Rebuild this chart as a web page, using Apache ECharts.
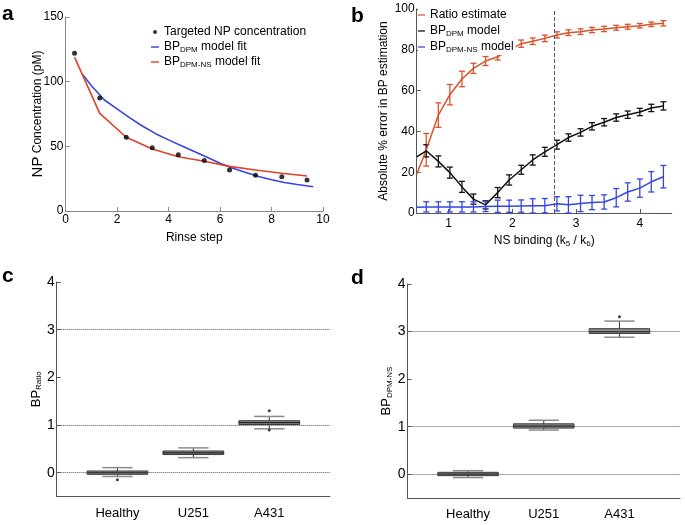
<!DOCTYPE html>
<html><head><meta charset="utf-8">
<script src="https://cdn.jsdelivr.net/npm/echarts@6/dist/echarts.min.js"></script>
<style>html,body{margin:0;padding:0;background:#fff}#c{width:685px;height:525px}</style>
</head><body><div id="c"></div>
<script>
// ---------- Panel a ----------
const rinseSteps = [0.35, 1.33, 2.36, 3.37, 4.38, 5.39, 6.37, 7.38, 8.40, 9.38];
const targetedNP = [122, 87.4, 57, 49, 43.5, 39, 31.7, 27.6, 26.5, 24];
const fitDPMNS = [119, 75.5, 57, 48, 42, 38.5, 34.5, 31.7, 29.2, 27];
const fitDPMx = [0.65, 1, 1.5, 2, 2.5, 3, 3.5, 4, 4.5, 5, 5.5, 6, 6.5, 7, 7.5, 8, 8.5, 9, 9.62];
const fitDPM = [106, 97, 86, 79, 72, 65.5, 59.8, 55, 50.5, 46, 41.5, 37, 33, 29.8, 26.7, 24.2, 22, 20.5, 18.8];

// ---------- Panel b ----------
const nsBinding = [0.65, 0.84, 1.02, 1.21, 1.39, 1.58, 1.77, 1.95, 2.14, 2.32, 2.51, 2.70, 2.88, 3.07, 3.25, 3.44, 3.63, 3.81, 4.00, 4.18, 4.37];
const edgeX = 0.5;
const ratioEdge = 19, dpmEdge = 27.5, dpmNSEdge = 2.8;
const ratioEst = [31, 48, 58, 65.7, 70.9, 74.5, 76.6, 80, 83, 84.2, 85.6, 87.3, 88.4, 88.9, 89.7, 90.2, 90.8, 91.3, 91.8, 92.5, 93.0];
const ratioErr = [8, 6, 5, 3.8, 2.5, 2.2, 1.6, 1.8, 1.8, 1.6, 1.6, 1.5, 1.4, 1.4, 1.3, 1.3, 1.2, 1.2, 1.1, 1.1, 1.3];
const dpmModel = [30.5, 25.3, 19.8, 12.8, 6.8, 4.0, 10, 16.2, 21.2, 26, 30, 33.5, 37, 39.5, 42.5, 44.5, 46.8, 48.2, 49.5, 51.5, 52.5];
const dpmErr = [3, 2.7, 2.7, 2.7, 2.5, 2, 2.5, 2.5, 2.2, 2.5, 2.2, 2.2, 1.8, 1.8, 1.8, 1.8, 1.8, 1.8, 1.8, 1.8, 2];
const dpmNSModel = [3, 3, 3, 3, 3, 3.2, 3.3, 3.3, 3.4, 3.5, 3.6, 4.5, 4.0, 4.7, 5.1, 5.4, 7.5, 10.3, 12.2, 15.3, 17.8];
const dpmNSErr = [2.5, 2.5, 2.5, 2.5, 2.5, 2.5, 3, 3, 3, 3.5, 3.5, 3.5, 4, 4, 3.5, 3.5, 4.5, 4.5, 4.5, 5, 5.5];
const dashedAt = 2.65;

// ---------- Panels c, d ----------
const groups = ['Healthy', 'U251', 'A431'];
const groupPos = [1, 2, 3];
// [min, Q1, median, Q3, max]
const boxRatio = [[-0.08, -0.035, 0, 0.035, 0.105], [0.315, 0.38, 0.415, 0.455, 0.52], [0.92, 1.01, 1.05, 1.09, 1.18]];
const outRatio = [[-0.15], [], [1.30, 0.895]];
const boxDPMNS = [[-0.07, -0.03, 0, 0.04, 0.075], [0.93, 0.97, 1.01, 1.06, 1.135], [2.88, 2.96, 3.0, 3.06, 3.22]];
const outDPMNS = [[], [], [3.31]];
const refLines = [0, 1, 3];
const tickB_X = [1, 2, 3, 4];
const tickCD_Y = [0, 1, 2, 3, 4];

const FONT = "'Liberation Sans', Arial, Helvetica, sans-serif";
const RED = '#d9522b', BLUE = '#3546e0', BLACK = '#111';
const subRich = { sub: { fontSize: 8, lineHeight: 6, verticalAlign: 'bottom', fontFamily: FONT, color: '#000' },
                  big: { fontSize: 15, lineHeight: 16, fontFamily: FONT, color: '#000' } };
const subFmt = n => n.replace(/^BP_(\S+)/, 'BP{sub|$1}');
const LINE_ICON = 'path://M0,0H10V1.8H0Z';

function zip(xs, ys) { return xs.map((x, i) => [x, ys[i]]); }
function errData(xs, ys, es) { return xs.map((x, i) => [x, ys[i] - es[i], ys[i] + es[i]]); }
function boxData(b) { return b.map((r, i) => [groupPos[i]].concat(r)); }
function outData(o) { const r = []; o.forEach((arr, i) => arr.forEach(v => r.push([groupPos[i], v]))); return r; }

function errRender(color) {
  return function (params, api) {
    const x = api.value(0);
    const lo = api.coord([x, api.value(1)]);
    const hi = api.coord([x, api.value(2)]);
    const hw = 3;
    const st = { stroke: color, lineWidth: 1.3 };
    return { type: 'group', children: [
      { type: 'line', shape: { x1: lo[0], y1: lo[1], x2: hi[0], y2: hi[1] }, style: st },
      { type: 'line', shape: { x1: lo[0] - hw, y1: lo[1], x2: lo[0] + hw, y2: lo[1] }, style: st },
      { type: 'line', shape: { x1: hi[0] - hw, y1: hi[1], x2: hi[0] + hw, y2: hi[1] }, style: st }
    ] };
  };
}
function boxRender(params, api) {
  const x = api.value(0);
  const lo = api.coord([x, api.value(1)]), q1 = api.coord([x, api.value(2)]),
        md = api.coord([x, api.value(3)]), q3 = api.coord([x, api.value(4)]),
        hi = api.coord([x, api.value(5)]);
  const w = api.size([0.8, 0])[0], cw = w / 2, cx = lo[0];
  return { type: 'group', children: [
    { type: 'line', shape: { x1: cx, y1: hi[1], x2: cx, y2: lo[1] }, style: { stroke: '#333', lineWidth: 1 } },
    { type: 'line', shape: { x1: cx - cw / 2, y1: hi[1], x2: cx + cw / 2, y2: hi[1] }, style: { stroke: '#8a8a8a', lineWidth: 1.5 } },
    { type: 'line', shape: { x1: cx - cw / 2, y1: lo[1], x2: cx + cw / 2, y2: lo[1] }, style: { stroke: '#8a8a8a', lineWidth: 1.5 } },
    { type: 'rect', shape: { x: cx - w / 2, y: q3[1], width: w, height: q1[1] - q3[1] }, style: { fill: '#8c8c8c', stroke: '#3a3a3a', lineWidth: 1 } },
    { type: 'line', shape: { x1: cx - w / 2, y1: md[1], x2: cx + w / 2, y2: md[1] }, style: { stroke: '#222', lineWidth: 1.2 } }
  ] };
}

const tickStyle = c => ({ show: true, inside: true, length: 4, lineStyle: { color: c } });
const lblStyle = (fs, m) => ({ color: '#000', fontFamily: FONT, fontSize: fs, margin: m });
const nameStyle = (fs) => ({ color: '#000', fontFamily: FONT, fontSize: fs, lineHeight: 14, rich: subRich });
const refMark = { silent: true, symbol: 'none', label: { show: false },
  lineStyle: { type: 'dotted', color: '#555', width: 1 }, data: refLines.map(v => ({ yAxis: v })) };
const titleStyle = { fontSize: 21, fontWeight: 'bold', color: '#000', fontFamily: FONT };

const option = {
  animation: false,
  backgroundColor: '#fff',
  title: [
    { text: 'a', left: 2, top: 4, padding: 0, textStyle: titleStyle },
    { text: 'b', left: 351, top: 6, padding: 0, textStyle: titleStyle },
    { text: 'c', left: 2, top: 266, padding: 0, textStyle: titleStyle },
    { text: 'd', left: 351, top: 268, padding: 0, textStyle: titleStyle }
  ],
  legend: [
    { left: 151, top: 25, orient: 'vertical', itemWidth: 8, itemHeight: 4, itemGap: 1, padding: 0, selectedMode: false,
      data: [{ name: 'Targeted NP concentration', icon: 'circle' }, { name: 'BP_DPM model fit', icon: LINE_ICON }, { name: 'BP_DPM-NS model fit', icon: LINE_ICON }],
      formatter: subFmt, textStyle: { color: '#000', fontFamily: FONT, fontSize: 12, lineHeight: 14, rich: subRich } },
    { left: 418, top: 8, orient: 'vertical', itemWidth: 7, itemHeight: 4, itemGap: 2, padding: [0, 2, 1, 0], backgroundColor: '#fff', selectedMode: false,
      data: [{ name: 'Ratio estimate', icon: LINE_ICON }, { name: 'BP_DPM model', icon: LINE_ICON }, { name: 'BP_DPM-NS model', icon: LINE_ICON }],
      formatter: subFmt, textStyle: { color: '#000', fontFamily: FONT, fontSize: 12, lineHeight: 14, rich: subRich } }
  ],
  grid: [
    { left: 65.5, top: 17, width: 257.5, height: 194, outerBoundsMode: 'none' },
    { left: 416.7, top: 9, width: 255, height: 204, outerBoundsMode: 'none' },
    { left: 56.7, top: 282, width: 273.3, height: 214.5, outerBoundsMode: 'none' },
    { left: 407.5, top: 284, width: 272.5, height: 214, outerBoundsMode: 'none' }
  ],
  xAxis: [
    { gridIndex: 0, type: 'value', min: 0, max: 10, interval: 2, splitLine: { show: false },
      axisLine: { onZero: false, lineStyle: { color: '#888' } }, axisTick: tickStyle('#888'), axisLabel: lblStyle(12, 3),
      name: 'Rinse step', nameLocation: 'middle', nameGap: 20, nameTextStyle: nameStyle(12) },
    { gridIndex: 1, type: 'value', min: 0.5, max: 4.5, splitLine: { show: false },
      axisLine: { onZero: false, lineStyle: { color: '#555' } }, axisTick: Object.assign(tickStyle('#555'), { customValues: tickB_X }),
      axisLabel: Object.assign(lblStyle(12, 5), { customValues: tickB_X }),
      name: 'NS binding (k{sub|5} / k{sub|6})', nameLocation: 'middle', nameGap: 21, nameTextStyle: nameStyle(12) },
    { gridIndex: 2, type: 'value', min: 0.2, max: 3.8, splitLine: { show: false },
      axisLine: { onZero: false, lineStyle: { color: '#555' } }, axisTick: { show: false },
      axisLabel: Object.assign(lblStyle(13, 10), { customValues: groupPos, formatter: v => groups[Math.round(v) - 1] }) },
    { gridIndex: 3, type: 'value', min: 0.2, max: 3.8, splitLine: { show: false },
      axisLine: { onZero: false, lineStyle: { color: '#555' } }, axisTick: { show: false },
      axisLabel: Object.assign(lblStyle(13, 10), { customValues: groupPos, formatter: v => groups[Math.round(v) - 1] }) }
  ],
  yAxis: [
    { gridIndex: 0, type: 'value', min: 0, max: 150, interval: 50, splitLine: { show: false },
      axisLine: { show: true, onZero: false, lineStyle: { color: '#888' } }, axisTick: tickStyle('#888'), axisLabel: lblStyle(12, 2),
      name: '{big|NP} Concentration (pM)', nameLocation: 'middle', nameGap: 20, nameMoveOverlap: false,
      nameTextStyle: Object.assign(nameStyle(12), { lineHeight: 16 }) },
    { gridIndex: 1, type: 'value', min: 0, max: 100, interval: 20, splitLine: { show: false },
      axisLine: { show: true, onZero: false, lineStyle: { color: '#555' } }, axisTick: tickStyle('#555'), axisLabel: lblStyle(12, 2),
      name: 'Absolute % error in BP estimation', nameLocation: 'middle', nameGap: 23, nameTextStyle: nameStyle(12) },
    { gridIndex: 2, type: 'value', min: -0.5, max: 4, splitLine: { show: false },
      axisLine: { show: true, onZero: false, lineStyle: { color: '#555' } },
      axisTick: Object.assign(tickStyle('#555'), { customValues: tickCD_Y }),
      axisLabel: Object.assign(lblStyle(14, 2), { customValues: tickCD_Y }),
      name: 'BP{sub|Ratio}', nameLocation: 'middle', nameGap: 13, nameTextStyle: nameStyle(13) },
    { gridIndex: 3, type: 'value', min: -0.5, max: 4, splitLine: { show: false },
      axisLine: { show: true, onZero: false, lineStyle: { color: '#555' } },
      axisTick: Object.assign(tickStyle('#555'), { customValues: tickCD_Y }),
      axisLabel: Object.assign(lblStyle(14, 2), { customValues: tickCD_Y }),
      name: 'BP{sub|DPM-NS}', nameLocation: 'middle', nameGap: 14, nameTextStyle: nameStyle(13) }
  ],
  series: [
    { name: 'Targeted NP concentration', type: 'scatter', xAxisIndex: 0, yAxisIndex: 0, symbolSize: 5,
      itemStyle: { color: '#000' }, data: zip(rinseSteps, targetedNP), z: 5 },
    { name: 'BP_DPM model fit', type: 'line', xAxisIndex: 0, yAxisIndex: 0, symbol: 'none',
      color: BLUE, lineStyle: { color: BLUE, width: 1.6 }, data: zip(fitDPMx, fitDPM) },
    { name: 'BP_DPM-NS model fit', type: 'line', xAxisIndex: 0, yAxisIndex: 0, symbol: 'none',
      color: '#e0412b', lineStyle: { color: '#e0412b', width: 1.6 }, data: zip(rinseSteps, fitDPMNS) },

    { name: 'Ratio estimate', type: 'line', xAxisIndex: 1, yAxisIndex: 1, symbol: 'none',
      color: RED, lineStyle: { color: RED, width: 1.5 }, data: [[edgeX, ratioEdge]].concat(zip(nsBinding, ratioEst)),
      markLine: { silent: true, symbol: 'none', label: { show: false }, lineStyle: { type: 'dashed', color: '#555', width: 1 }, data: [{ xAxis: dashedAt }] } },
    { type: 'custom', xAxisIndex: 1, yAxisIndex: 1, renderItem: errRender(RED), encode: { x: 0, y: [1, 2] },
      data: errData(nsBinding, ratioEst, ratioErr) },
    { name: 'BP_DPM model', type: 'line', xAxisIndex: 1, yAxisIndex: 1, symbol: 'none',
      color: BLACK, lineStyle: { color: BLACK, width: 1.5 }, data: [[edgeX, dpmEdge]].concat(zip(nsBinding, dpmModel)) },
    { type: 'custom', xAxisIndex: 1, yAxisIndex: 1, renderItem: errRender(BLACK), encode: { x: 0, y: [1, 2] },
      data: errData(nsBinding, dpmModel, dpmErr) },
    { name: 'BP_DPM-NS model', type: 'line', xAxisIndex: 1, yAxisIndex: 1, symbol: 'none',
      color: BLUE, lineStyle: { color: BLUE, width: 1.5 }, data: [[edgeX, dpmNSEdge]].concat(zip(nsBinding, dpmNSModel)) },
    { type: 'custom', xAxisIndex: 1, yAxisIndex: 1, renderItem: errRender(BLUE), encode: { x: 0, y: [1, 2] },
      data: errData(nsBinding, dpmNSModel, dpmNSErr) },

    { type: 'custom', xAxisIndex: 2, yAxisIndex: 2, renderItem: boxRender, encode: { x: 0, y: [1, 2, 3, 4, 5] },
      data: boxData(boxRatio), z: 3 },
    { type: 'scatter', xAxisIndex: 2, yAxisIndex: 2, symbolSize: 3, itemStyle: { color: '#111' },
      data: outData(outRatio), markLine: refMark, z: 4 },
    { type: 'custom', xAxisIndex: 3, yAxisIndex: 3, renderItem: boxRender, encode: { x: 0, y: [1, 2, 3, 4, 5] },
      data: boxData(boxDPMNS), z: 3 },
    { type: 'scatter', xAxisIndex: 3, yAxisIndex: 3, symbolSize: 3, itemStyle: { color: '#111' },
      data: outData(outDPMNS), markLine: refMark, z: 4 }
  ]
};
const chart = echarts.init(document.getElementById('c'), null, { renderer: 'canvas' });
chart.setOption(option);
</script></body></html>
